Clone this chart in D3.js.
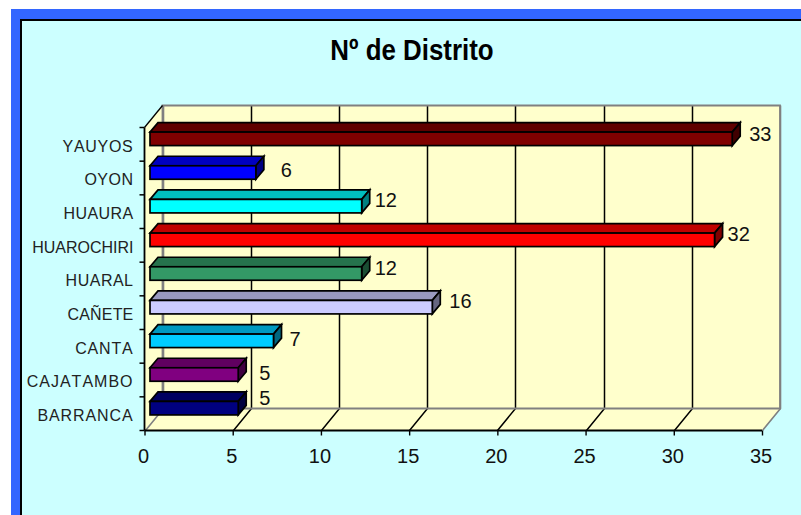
<!DOCTYPE html>
<html><head><meta charset="utf-8">
<script src="https://cdn.jsdelivr.net/npm/d3@7/dist/d3.min.js"></script>
<style>html,body{margin:0;padding:0;background:#fff}svg{display:block}text{font-family:"Liberation Sans",Arial,sans-serif}</style>
</head><body><svg id="c" width="801" height="515"></svg>
<script>
const categories=["BARRANCA","CAJATAMBO","CANTA","CAÑETE","HUARAL","HUAROCHIRI","HUAURA","OYON","YAUYOS"];
const values=[5,5,7,16,12,32,12,6,33];
const barColors=["#000080","#800080","#00CCFF","#CCCCFF","#339966","#FF0000","#00FFFF","#0000FF","#800000"];
const xTicks=[0,5,10,15,20,25,30,35];
const titleText="Nº de Distrito";
const labelNudgeX=[13,13,8,9,5,5,5,17,9];
const labelNudgeY=[-10,-2,-2,-6,-6,-6,-6,-3,-5];
const catSpacing=[0.9,1,0.8,0.2,0.5,0,0.4,0.5,0.7];

const svg=d3.select("#c");
const W=801,H=515;
svg.append("rect").attr("x",11).attr("y",9).attr("width",W-11).attr("height",H-9).attr("fill","#3366FF");
svg.append("rect").attr("x",21).attr("y",20).attr("width",W-21+5).attr("height",H-20+5).attr("fill","#CCFFFF").attr("stroke","#000").attr("stroke-width",2);

const x=d3.scaleLinear().domain([0,35]).range([144.5,762]);
const y=d3.scaleBand().domain(categories.slice().reverse()).range([127.5,430.5]);
const depth={x:18,y:-22};
const yB=430.5,yT=127.5;
const poly=p=>p.map(q=>q.join(",")).join(" ");
const wall="#FFFFCC",grey="#808080";
// walls
svg.append("polygon").attr("points",poly([[x(0),yT],[x(0)+depth.x,yT+depth.y],[x(0)+depth.x,yB+depth.y],[x(0),yB]])).attr("fill",wall);
svg.append("polygon").attr("points",poly([[x(0),yB],[x(0)+depth.x,yB+depth.y],[x(35)+depth.x,yB+depth.y],[x(35),yB]])).attr("fill",wall);
svg.append("rect").attr("x",x(0)+depth.x).attr("y",yT+depth.y).attr("width",x(35)-x(0)).attr("height",yB-yT).attr("fill",wall);
// gridlines
xTicks.forEach(t=>{
  const edge=(t===0||t===35);
  const px=Math.round(x(t))+0.5;
  svg.append("path").attr("d",`M${px},${yB}L${px+depth.x},${yB+depth.y}L${px+depth.x},${yT+depth.y}`)
    .attr("fill","none").attr("stroke",edge?grey:"#000").attr("stroke-width",edge?1.6:1.5);
});
// wall frame
svg.append("path").attr("d",`M${x(0)+depth.x},${yB+depth.y}V${yT+depth.y}H${x(35)+depth.x}V${yB+depth.y}H${x(0)+depth.x}`)
  .attr("fill","none").attr("stroke",grey).attr("stroke-width",1.8);
svg.append("line").attr("x1",x(0)).attr("y1",yT).attr("x2",x(0)+depth.x).attr("y2",yT+depth.y).attr("stroke","#000").attr("stroke-width",1.3);
// axes
const gx=svg.append("g").attr("transform",`translate(0,${yB})`).call(d3.axisBottom(x).tickValues(xTicks).tickSize(5).tickPadding(13).tickFormat(d3.format("d")));
gx.select(".domain").attr("stroke-width",1.8).attr("d",`M${x(0)},0H${x(35)}`);
gx.selectAll("line").attr("stroke-width",1.4);
gx.selectAll("text").attr("font-size",20).attr("fill","#111").attr("dx",-1.5);
const gy=svg.append("g").attr("transform",`translate(${x(0)},0)`).call(d3.axisLeft(y).tickSize(0).tickPadding(11));
gy.select(".domain").attr("stroke-width",1.8).attr("d",`M0,${yT}V${yB}`);
gy.selectAll("text").attr("font-size",16).attr("fill","#222").attr("dy",7.3).style("font-kerning","none")
  .attr("letter-spacing",d=>catSpacing[categories.indexOf(d)]);
[...categories.map(c=>y(c)),yB].forEach(t=>svg.append("line").attr("x1",x(0)-5).attr("x2",x(0)).attr("y1",t).attr("y2",t).attr("stroke","#000").attr("stroke-width",1.5));
// bars
const off={x:5.5,y:-5.5},bh=13.5,bd={x:8,y:-9.5};
const bars=svg.append("g").selectAll("g").data(categories).join("g");
bars.each(function(c,i){
  const g=d3.select(this);
  const x0=x(0)+off.x,x1=x(values[i])+off.x;
  const y0=y(c)+y.bandwidth()/2+off.y-bh/2,y1=y0+bh;
  const col=d3.color(barColors[i]);
  g.append("polygon").attr("points",poly([[x0,y0],[x0+bd.x,y0+bd.y],[x1+bd.x,y0+bd.y],[x1,y0]])).attr("fill",col.darker(0.8));
  g.append("polygon").attr("points",poly([[x1,y0],[x1+bd.x,y0+bd.y],[x1+bd.x,y1+bd.y],[x1,y1]])).attr("fill",col.darker(1.94));
  g.append("rect").attr("x",x0).attr("y",y0).attr("width",x1-x0).attr("height",bh).attr("fill",col);
  g.selectAll("polygon,rect").attr("stroke","#000").attr("stroke-width",1.7).attr("stroke-linejoin","miter");
  g.append("text").attr("x",x1+bd.x+labelNudgeX[i]).attr("y",y0+bh/2+labelNudgeY[i]+7).attr("font-size",20).attr("fill","#111").text(values[i]);
});
// title
svg.append("text").attr("transform","translate(412,60) scale(0.863,1)").attr("text-anchor","middle").attr("font-size",30).attr("font-weight","bold").attr("fill","#000").text(titleText);
</script></body></html>
